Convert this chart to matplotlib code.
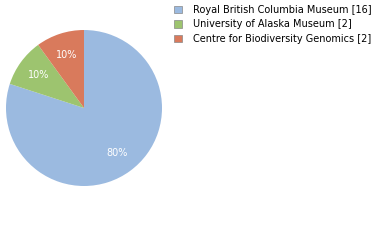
import matplotlib
matplotlib.use("Agg")
import matplotlib.pyplot as plt
from matplotlib.patches import Patch

labels = ["Royal British Columbia Museum", "University of Alaska Museum", "Centre for Biodiversity Genomics"]
counts = [16, 2, 2]
colors = ["#9bbae0", "#9dc46f", "#d97a5c"]

fig = plt.figure(figsize=(3.8, 2.4), dpi=100)
ax = fig.add_axes([6/380, 54/240, 156/380, 156/240])
wedges, texts, autotexts = ax.pie(counts, colors=colors, startangle=90, counterclock=False,
                                  autopct=lambda p: f"{p:.0f}%", pctdistance=0.72,
                                  textprops=dict(color="white", fontsize=7),
                                  wedgeprops=dict(linewidth=0))
ax.set_xlim(-1, 1)
ax.set_ylim(-1, 1)
ax.set_aspect("equal")

handles = [Patch(facecolor=c, edgecolor="#888888", linewidth=0.5) for c in colors]
leg_labels = [f"{l} [{n}]" for l, n in zip(labels, counts)]
fig.legend(handles, leg_labels, loc="upper left", bbox_to_anchor=(172/380, 1 - 3/240),
           frameon=False, fontsize=7, handlelength=0.8, handleheight=0.8,
           handletextpad=1.2, labelspacing=0.45, borderaxespad=0, borderpad=0.2)
fig.savefig("out.png", dpi=100)
